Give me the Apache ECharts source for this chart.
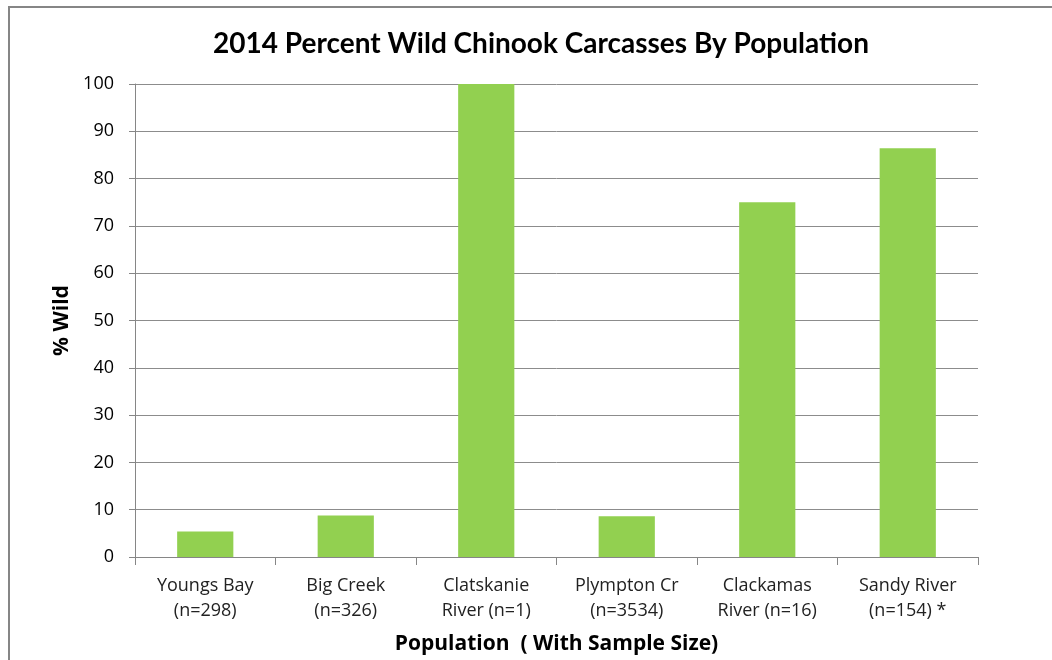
<!DOCTYPE html>
<html lang="en">
<head>
<meta charset="utf-8">
<title>2014 Percent Wild Chinook Carcasses</title>
<script src="https://cdn.jsdelivr.net/npm/echarts@6/dist/echarts.min.js"></script>
<style>
  html, body { margin: 0; padding: 0; background: #fff; }
  #chart { width: 1052px; height: 660px; }
</style>
</head>
<body>
<div id="chart"></div>
<script>
// populations (with sample size) and percent wild
var populations = ['Youngs Bay\n(n=298)', 'Big Creek\n(n=326)', 'Clatskanie\nRiver (n=1)',
                   'Plympton Cr\n(n=3534)', 'Clackamas\nRiver (n=16)', 'Sandy River\n(n=154) *'];
var pctWild = [5.4, 8.8, 100, 8.6, 75, 86.4];
var yTicks = [0, 10, 20, 30, 40, 50, 60, 70, 80, 90, 100];

var titleFont = 'Lato, sans-serif';
var labelFont = '"Open Sans", sans-serif';

var chart = echarts.init(document.getElementById('chart'));
chart.setOption({
  animation: false,
  backgroundColor: '#fff',
  graphic: [{
    type: 'rect',
    shape: { x: 9, y: 7, width: 1060, height: 670 },
    style: { fill: 'none', stroke: '#868686', lineWidth: 2 }
  }],
  title: {
    text: '2014 Percent Wild Chinook Carcasses By Population',
    left: 536, top: 25, textAlign: 'center',
    textStyle: { fontFamily: titleFont, fontSize: 28, fontWeight: 'bold', color: '#000' }
  },
  grid: { left: 135, right: 74, top: 84, bottom: 97, containLabel: false },
  xAxis: {
    type: 'category',
    data: populations,
    name: 'Population  ( With Sample Size)',
    nameLocation: 'middle',
    nameGap: 77,
    nameTextStyle: { fontFamily: labelFont, fontSize: 21, fontWeight: 'bold', color: '#000' },
    axisLine: { lineStyle: { color: '#868686', width: 1 } },
    axisTick: { show: true, length: 8, lineStyle: { color: '#868686' } },
    axisLabel: { fontFamily: labelFont, fontSize: 18, color: '#222', lineHeight: 25, margin: 16 }
  },
  yAxis: {
    type: 'value',
    min: yTicks[0], max: yTicks[yTicks.length - 1], interval: 10,
    name: '% Wild',
    nameLocation: 'middle',
    nameGap: 45,
    nameTextStyle: { fontFamily: labelFont, fontSize: 21, fontWeight: 'bold', color: '#000' },
    axisLine: { show: true, lineStyle: { color: '#868686' } },
    axisTick: { show: true, inside: false, length: 6, lineStyle: { color: '#868686' } },
    axisLabel: { fontFamily: labelFont, fontSize: 18, color: '#000', margin: 21 },
    splitLine: { lineStyle: { color: '#8c8c8c', width: 1 } }
  },
  series: [{
    type: 'bar',
    data: pctWild,
    barWidth: '40%',
    itemStyle: { color: '#92D050' }
  }]
});
</script>
</body>
</html>
